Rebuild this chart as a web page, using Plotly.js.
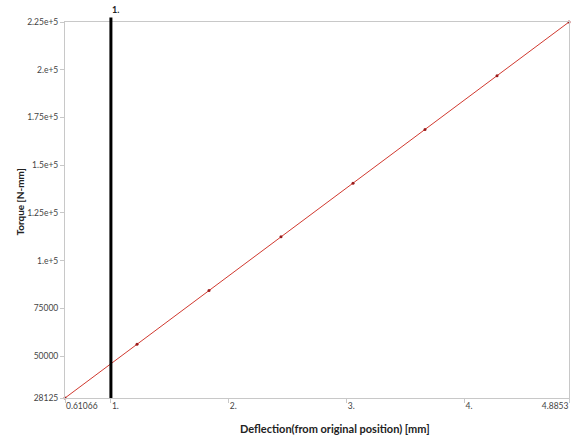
<!DOCTYPE html>
<html>
<head>
<meta charset="utf-8">
<script src="https://cdn.plot.ly/plotly-3.0.1.min.js"></script>
<style>html,body{margin:0;padding:0;background:#fff;}#chart{width:576px;height:439px;}</style>
</head>
<body>
<div id="chart"></div>
<script>
// Data
const deflection = [0.61066, 1.2213, 1.832, 2.4426, 3.0533, 3.664, 4.2746, 4.8853];
const torque = [28125, 56250, 84375, 112500, 140625, 168750, 196875, 225000];
const xTickVals = [0.61066, 1, 2, 3, 4];
const xTickText = ["0.61066", "1.", "2.", "3.", "4."];
const xEndTickVals = [4.8853];
const xEndTickText = ["4.8853"];
const yTickVals = [28125, 50000, 75000, 100000, 125000, 150000, 175000, 200000, 225000];
const yTickText = ["28125", "50000", "75000", "1.e+5", "1.25e+5", "1.5e+5", "1.75e+5", "2.e+5", "2.25e+5"];
const cursorX = [1];
const cursorLabel = ["1."];
const xTitle = "Deflection(from original position) [mm]";
const yTitle = "Torque [N-mm]";

const fam = "Lato, Open Sans, DejaVu Sans, sans-serif";
const font = {family: fam, size: 8.5, color: "#444"};
const titleFont = {family: fam, size: 11, color: "#222", weight: "bold"};
const xr = [deflection[0], deflection[deflection.length - 1]];
const yr = [torque[0], torque[torque.length - 1]];

const traces = [{
  x: deflection, y: torque, type: "scatter", mode: "lines+markers",
  line: {color: "#d0392f", width: 1},
  marker: {color: "#9a1a1a", size: 3},
  cliponaxis: false, showlegend: false, hoverinfo: "x+y"
}, {
  x: xEndTickVals, y: [torque[0]], xaxis: "x2", type: "scatter", mode: "markers",
  marker: {size: 0.1, opacity: 0}, showlegend: false, hoverinfo: "skip"
}];

const axisCommon = {
  showgrid: false, zeroline: false, showline: true, linecolor: "#c8c8c8", linewidth: 1,
  ticks: "outside", ticklen: 4, tickcolor: "#c8c8c8", tickfont: font
};

const layout = {
  width: 576, height: 439,
  margin: {l: 65, r: 7, t: 22, b: 41},
  paper_bgcolor: "#fff", plot_bgcolor: "#fff",
  font: font,
  xaxis: Object.assign({}, axisCommon, {
    range: xr, tickmode: "array", tickvals: xTickVals, ticktext: xTickText,
    mirror: true, ticklabelposition: "outside right"
  }),
  xaxis2: Object.assign({}, axisCommon, {
    range: xr, overlaying: "x", side: "bottom", tickmode: "array",
    tickvals: xEndTickVals, ticktext: xEndTickText, ticklabelposition: "outside left",
    showline: false
  }),
  yaxis: Object.assign({}, axisCommon, {
    range: yr, tickmode: "array", tickvals: yTickVals, ticktext: yTickText, mirror: true
  }),
  shapes: cursorX.map(v => ({
    type: "line", xref: "x", yref: "paper", x0: v, x1: v, y0: 0, y1: 1.012,
    line: {color: "#000", width: 3}
  })),
  annotations: cursorX.map((v, i) => ({
    x: v, xref: "x", y: 1.012, yref: "paper", text: cursorLabel[i], showarrow: false,
    xanchor: "left", yanchor: "bottom", xshift: -1,
    font: {family: fam, size: 9, color: "#222", weight: "bold"}
  })).concat([{
    x: 0.536, xref: "paper", y: 428, yref: "paper", text: xTitle, showarrow: false,
    xanchor: "center", yanchor: "middle", font: titleFont
  }, {
    x: -0.089, xref: "paper", y: 0.52, yref: "paper", text: yTitle, showarrow: false,
    textangle: -90, xanchor: "center", yanchor: "middle", font: Object.assign({}, titleFont, {size: 10})
  }])
};
// place x title in pixel terms: 428px from top -> paper coordinate
layout.annotations[1].y = (439 - 41 - 428) / (439 - 22 - 41);

Plotly.newPlot("chart", traces, layout, {displayModeBar: false, staticPlot: true});
</script>
</body>
</html>
